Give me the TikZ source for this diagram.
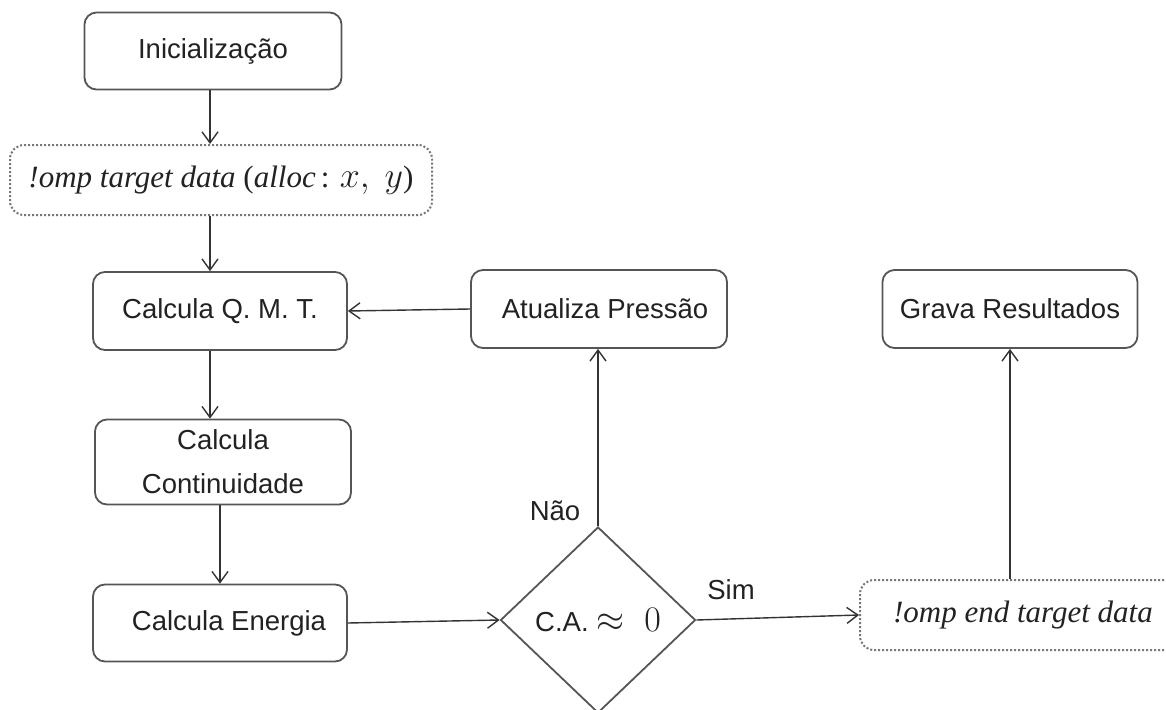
\RequirePackage{fix-cm}
\documentclass[tikz,border=0pt]{standalone}
\usepackage{fontspec}
\setmainfont{Liberation Sans}
\newfontfamily\omfont{Liberation Serif}
\usetikzlibrary{shapes.geometric,arrows.meta}
\definecolor{boxc}{HTML}{555555}
\definecolor{txtc}{HTML}{222222}
\definecolor{arrc}{HTML}{333333}
\newcommand{\largemath}[1]{{\fontsize{36}{40}\selectfont$#1$}}
\tikzset{
  box/.style={draw=boxc, line width=1.8pt, rounded corners=12pt, text=txtc, align=center, inner sep=0pt,
    font=\fontsize{27.5}{44}\selectfont},
  dotbox/.style={draw=boxc!80, line width=2pt, dotted, rounded corners=14pt, text=txtc, inner sep=0pt,
    font=\omfont\itshape\fontsize{31}{36}\selectfont},
  dec/.style={draw=boxc, line width=1.8pt, diamond, inner sep=0pt, text=txtc, font=\fontsize{27.5}{32}\selectfont},
  arr/.style={draw=arrc, line width=1.4pt, -{Straight Barb[length=11pt,width=16pt,line width=1.4pt]}},
  lbl/.style={text=txtc, font=\fontsize{27.5}{32}\selectfont, inner sep=0pt}
}
\begin{document}
\begin{tikzpicture}[x=1pt,y=-1pt]
\clip (0,0) rectangle (1166,709);
\fill[white] (0,0) rectangle (1166,709);
\node[box, minimum width=257pt, minimum height=77pt] (init) at (213,51) {Inicialização};
\node[dotbox, minimum width=422pt, minimum height=70pt] (ompA) at (221,180) {!omp target data \normalfont\omfont(\itshape alloc\normalfont\omfont\,: \largemath{x,\ y})};
\node[box, minimum width=254pt, minimum height=78pt] (qmt) at (220,311) {Calcula Q. M. T.};
\node[box, minimum width=256pt, minimum height=85pt] (cont) at (223,462) {Calcula\\Continuidade};
\node[box, minimum width=254pt, minimum height=77pt] (energ) at (220,623) {\hspace*{18pt}Calcula Energia};
\node[box, minimum width=256pt, minimum height=78pt] (atual) at (599,309) {\hspace*{12pt}Atualiza Pressão};
\node[box, minimum width=255pt, minimum height=78pt] (grava) at (1010,309) {Grava Resultados};
\node[dec, minimum width=195pt, minimum height=186pt] (ca) at (598,620) {C.A. \largemath{\approx\ 0}};
\node[dotbox, minimum width=326pt, minimum height=70pt] (ompB) at (1023,615) {!omp end target data};
\coordinate (xa) at (210,0);
\coordinate (xb) at (220,0);
\coordinate (xd) at (1010,0);
\draw[arr] (init.south -| xa) -- (ompA.north -| xa);
\draw[arr] (ompA.south -| xa) -- (qmt.north -| xa);
\draw[arr] (qmt.south -| xa) -- (cont.north -| xa);
\draw[arr] (cont.south -| xb) -- (energ.north -| xb);
\draw[arr] (energ.east) -- (ca.west);
\draw[arr] (ca.north) -- (atual.south -| ca.north);
\draw[arr] (atual.west) -- (qmt.east);
\draw[arr] (ca.east) -- (ompB.west);
\draw[arr] (ompB.north -| xd) -- (grava.south -| xd);
\node[lbl] (nao) at (555,511) {Não};
\node[lbl] (sim) at (731,590) {Sim};
\end{tikzpicture}
\end{document}
